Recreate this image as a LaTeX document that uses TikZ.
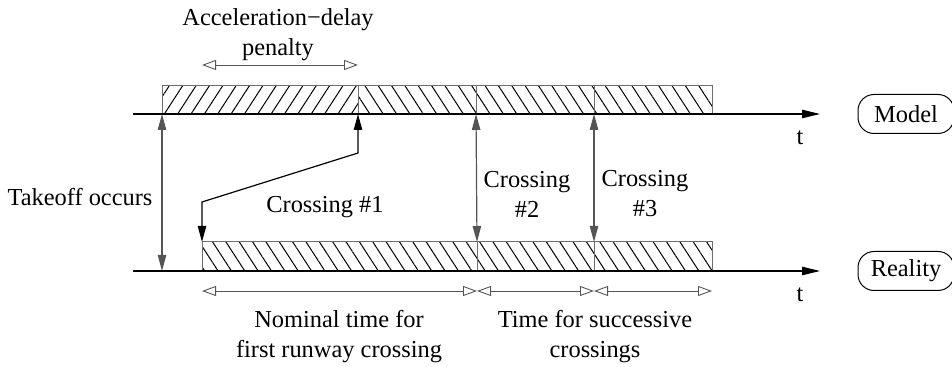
\documentclass[tikz,border=0pt]{standalone}
\usepackage{fontspec}
\setmainfont{Liberation Serif}
\usetikzlibrary{arrows.meta, positioning, patterns.meta}
\definecolor{tbar}{HTML}{6E6E6E}
\definecolor{tarr}{HTML}{555555}
\tikzset{
  axis/.style={-{Triangle[length=9pt, width=4.2pt]}, line width=0.6pt, black},
  segbox/.style={draw=tbar, line width=0.5pt},
  hatchne/.style={pattern={Lines[angle=57, distance=5.6pt, line width=0.5pt]}},
  hatchnw/.style={pattern={Lines[angle=-57, distance=5.6pt, line width=0.5pt]}},
  evarr/.style={{Triangle[length=8pt, width=4.2pt]}-{Triangle[length=8pt, width=4.2pt]},
                line width=0.6pt, tarr},
  dimarr/.style={{Triangle[open, length=7pt, width=5pt]}-{Triangle[open, length=7pt, width=5pt]},
                 line width=0.45pt, tarr},
  lbl/.style={font=\fontsize{12.2}{15}\selectfont, align=center, inner sep=0pt},
  tag/.style={draw, rounded corners=8pt, line width=0.5pt, minimum width=48pt,
              minimum height=19.5pt, font=\fontsize{12.2}{15}\selectfont},
}

\begin{document}
\begin{tikzpicture}[x=0.5pt, y=-0.5pt]
  \useasboundingbox (0,0) rectangle (952,367);

  %% key instants on the time lines
  \coordinate (mT)  at (162,114);  \coordinate (mA)  at (358,114);
  \coordinate (mB)  at (476,114);  \coordinate (mC)  at (594,114);
  \coordinate (rT)  at (162,271);  \coordinate (rS)  at (202,271);
  \coordinate (rB)  at (477,271);  \coordinate (rC)  at (594,271);
  \coordinate (rE)  at (712,271);

  %% Model bar (top)
  \draw[segbox, hatchne] (162,86) rectangle (358,114);
  \foreach \xa/\xb in {358/476, 476/594, 594/712}{
    \draw[segbox, hatchnw] (\xa,86) rectangle (\xb,114);
  }
  %% Reality bar (bottom)
  \foreach \xa/\xb in {202/477, 477/594, 594/712}{
    \draw[segbox, hatchnw] (\xa,242) rectangle (\xb,271);
  }

  %% time axes
  \draw[axis] (133,114) -- (820,114) node[lbl, below=8pt, xshift=-10pt] (tm) {t};
  \draw[axis] (133,271) -- (820,271) node[lbl, below=8pt, xshift=-10pt] (tr) {t};
  \node[tag] (model)   at (906,114) {Model};
  \node[tag] (reality) at (906,271) {Reality};

  %% events
  \coordinate (rStop) at (202,242);
  \coordinate (rBtop) at (477,242);
  \coordinate (rCtop) at (594,242);
  \draw[evarr] (mT) -- (rT);
  \draw[evarr] (mB) -- (rBtop);
  \draw[evarr] (mC) -- (rCtop);
  \draw[evarr, black] (mA) -- (358,153) -- (202,202) -- (rStop);

  %% durations
  \coordinate (pA) at (202,65);  \coordinate (pB) at (358,65);
  \draw[dimarr] (pA) -- (pB);
  \draw[dimarr] (202,291) -- (477,291);
  \draw[dimarr] (477,291) -- (594,291);
  \draw[dimarr] (594,291) -- (712,291);

  %% labels
  \node[lbl] (pen)   at (278,35)  {Acceleration−delay\\penalty};
  \node[lbl] (take)  at (80,197)  {Takeoff occurs};
  \node[lbl] (cr1)   at (325,207) {Crossing \#1};
  \node[lbl] (cr2)   at (527,194) {Crossing\\\#2};
  \node[lbl] (cr3)   at (645,194) {Crossing\\\#3};
  \node[lbl] (nom)   at (339,337) {Nominal time for\\first runway crossing};
  \node[lbl] (succ)  at (595,337) {Time for successive\\crossings};

\end{tikzpicture}
\end{document}
